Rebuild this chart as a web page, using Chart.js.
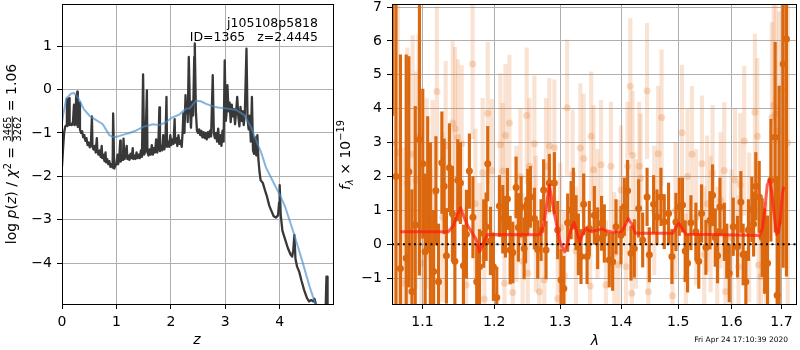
<!DOCTYPE html>
<html>
<head>
<meta charset="utf-8">
<script src="https://cdn.jsdelivr.net/npm/chart.js@4.4.1/dist/chart.umd.min.js"></script>
<style>
	html, body { margin: 0; padding: 0; background: #fff; }
	#painel { position: relative; width: 800px; height: 350px; overflow: hidden; }
	#painel canvas { position: absolute; top: 0; }
</style>
</head>
<body>
<div id="painel">
	<canvas id="graficoPz" width="340" height="350" style="left:0"></canvas>
	<canvas id="graficoEspectro" width="470" height="350" style="left:330px"></canvas>
</div>
<script>
// ---- p(z) panel ----
var zTicks = [0, 1, 2, 3, 4];
var lnpTicks = [-4, -3, -2, -1, 0, 1];

var zGrade = [0.00, 0.02, 0.04, 0.06, 0.08, 0.09, 0.10, 0.12, 0.13, 0.14, 0.16, 0.18, 0.20, 0.22, 0.23, 0.25, 0.26, 0.27, 0.28, 0.29,
	0.31, 0.32, 0.33, 0.35, 0.37, 0.39, 0.41, 0.43, 0.45, 0.47, 0.49, 0.51, 0.53, 0.55, 0.56, 0.58, 0.60, 0.62, 0.64, 0.65,
	0.67, 0.69, 0.71, 0.73, 0.74, 0.76, 0.78, 0.80, 0.81, 0.83, 0.85, 0.87, 0.89, 0.91, 0.93, 0.94, 0.96, 0.98, 1.00, 1.02,
	1.03, 1.05, 1.07, 1.08, 1.10, 1.12, 1.13, 1.15, 1.17, 1.19, 1.20, 1.22, 1.24, 1.26, 1.28, 1.30, 1.31, 1.33, 1.35, 1.37,
	1.39, 1.41, 1.43, 1.45, 1.47, 1.49, 1.51, 1.53, 1.56, 1.57, 1.59, 1.61, 1.63, 1.65, 1.67, 1.69, 1.71, 1.73, 1.75, 1.77,
	1.79, 1.80, 1.82, 1.84, 1.86, 1.88, 1.90, 1.92, 1.93, 1.95, 1.97, 1.99, 2.01, 2.03, 2.05, 2.07, 2.08, 2.10, 2.12, 2.14,
	2.16, 2.18, 2.20, 2.22, 2.23, 2.25, 2.27, 2.28, 2.30, 2.31, 2.33, 2.35, 2.37, 2.39, 2.41, 2.43, 2.44, 2.46, 2.48, 2.50,
	2.52, 2.54, 2.56, 2.58, 2.60, 2.62, 2.64, 2.66, 2.68, 2.70, 2.72, 2.74, 2.77, 2.79, 2.81, 2.83, 2.85, 2.87, 2.89, 2.91,
	2.93, 2.95, 2.97, 2.99, 3.01, 3.03, 3.04, 3.06, 3.08, 3.10, 3.12, 3.14, 3.16, 3.18, 3.20, 3.22, 3.24, 3.26, 3.28, 3.30,
	3.32, 3.34, 3.36, 3.39, 3.41, 3.43, 3.45, 3.47, 3.49, 3.51, 3.53, 3.55, 3.57, 3.59, 3.61, 3.63, 3.65, 3.69, 3.73, 3.77,
	3.81, 3.85, 3.89, 3.93, 3.97, 3.99, 4.00, 4.02, 4.05, 4.10, 4.15, 4.20, 4.23, 4.25, 4.27, 4.29, 4.32, 4.36, 4.40, 4.45,
	4.50, 4.54, 4.58, 4.62, 4.64, 4.66, 4.68, 4.84, 4.86, 4.87, 4.88, 4.98];
var lnpZ = [-1.78, -1.35, -0.98, -0.85, -0.82, -0.22, -0.84, -0.80, -0.20, -0.82, -0.78, -0.82, -0.78, -0.35, -0.82, -0.80, -0.13, -0.80, -0.05, -0.86,
	-0.82, -0.30, -0.92, -1.00, -0.96, -1.10, -1.05, -1.18, -1.12, -1.28, -1.22, -1.33, -1.28, -0.62, -1.32, -1.38, -1.30, -1.45, -1.12, -1.42,
	-1.50, -1.40, -1.55, -1.30, -1.58, -1.50, -1.65, -1.45, -1.68, -1.60, -1.72, -1.65, -1.78, -1.72, -1.80, -0.55, -1.82, -1.75, -1.72, -1.50,
	-1.72, -1.62, -1.18, -1.66, -1.52, -1.62, -1.13, -1.60, -1.48, -1.30, -1.60, -1.52, -1.62, -1.48, -1.58, -1.35, -1.60, -1.52, -1.60, -1.45,
	-1.58, -1.50, -1.58, -1.40, -1.55, 0.35, -1.50, -1.42, -0.02, -1.45, -1.52, -1.38, -1.50, -1.28, -1.50, -1.35, -1.45, -1.15, -1.45, -1.30,
	-0.41, -1.42, -1.30, -1.40, -1.05, -1.38, -1.25, -0.17, -1.32, -1.20, -1.32, -1.05, -1.28, -1.15, -1.25, -0.68, -1.22, -1.12, -1.30, -1.05,
	-1.25, -1.18, -1.32, -0.90, -0.55, -1.00, -0.13, -0.55, -0.30, -0.75, 0.75, -0.40, -0.88, -0.28, -0.60, 0.75, 1.06, -0.50, -0.95, -1.00,
	-0.92, -1.05, -0.95, -1.10, -0.98, -1.12, -1.00, -1.15, -0.98, -1.10, -0.95, -1.08, 0.33, -1.00, -1.12, -1.00, -1.20, -0.90, -1.25, -1.05,
	-1.30, -0.95, -1.20, 0.67, -0.72, -0.45, 0.10, -0.50, -0.30, -0.75, -0.35, -0.62, -0.45, -0.80, -0.50, -0.17, -0.62, -0.85, -0.40, -0.72,
	-0.50, -0.82, -0.55, 0.94, -0.70, -0.92, -0.60, -1.20, -0.17, -1.40, -1.48, -1.10, -1.52, -1.05, -1.62, -1.90, -2.09, -2.15, -2.32, -2.48,
	-2.68, -2.80, -2.92, -2.95, -2.90, -2.60, -2.20, -2.90, -3.25, -3.45, -3.65, -3.80, -3.85, -3.70, -3.35, -3.90, -4.08, -4.20, -4.40, -4.62,
	-4.80, -4.88, -4.85, -4.88, -4.82, -4.92, -5.30, -5.30, -4.31, -4.31, -5.30, -5.30];

var zSuave = [0.00, 0.02, 0.08, 0.17, 0.22, 0.30, 0.40, 0.51, 0.60, 0.75, 0.87, 0.95, 1.00, 1.10, 1.24, 1.35, 1.49, 1.67, 1.79, 1.90,
	2.03, 2.15, 2.28, 2.35, 2.46, 2.55, 2.65, 2.80, 3.04, 3.20, 3.35, 3.47, 3.59, 3.66, 3.75, 3.87, 4.00, 4.10, 4.26, 4.41,
	4.55, 4.64, 4.72];
var lnpSuave = [-0.75, -0.59, -0.20, -0.09, -0.08, -0.20, -0.45, -0.61, -0.68, -0.80, -1.05, -1.10, -1.09, -1.05, -1.00, -0.95, -0.86, -0.80, -0.82, -0.76,
	-0.64, -0.58, -0.44, -0.43, -0.26, -0.27, -0.33, -0.40, -0.44, -0.47, -0.59, -0.86, -1.24, -1.45, -1.80, -2.10, -2.42, -2.70, -3.31, -3.93,
	-4.54, -4.88, -5.30];

// ---- spectrum panel ----
var lamTicks = [1.1, 1.2, 1.3, 1.4, 1.5, 1.6, 1.7];
var fluxTicks = [-1, 0, 1, 2, 3, 4, 5, 6, 7];

var lamDark = [1.0610, 1.0652, 1.0710, 1.0785, 1.0820, 1.0860, 1.0904, 1.0960, 1.1004, 1.1036,
	1.1070, 1.1106, 1.1150, 1.1181, 1.1216, 1.1262, 1.1293, 1.1324, 1.1366, 1.1407,
	1.1441, 1.1481, 1.1518, 1.1560, 1.1602, 1.1644, 1.1694, 1.1748, 1.1787, 1.1848,
	1.1883, 1.1906, 1.1945, 1.1988, 1.2037, 1.2076, 1.2125, 1.2164, 1.2194, 1.2234,
	1.2273, 1.2323, 1.2357, 1.2398, 1.2443, 1.2465, 1.2498, 1.2538, 1.2599, 1.2650,
	1.2701, 1.2741, 1.2778, 1.2830, 1.2908, 1.2960, 1.3013, 1.3057, 1.3118, 1.3172,
	1.3209, 1.3252, 1.3289, 1.3332, 1.3375, 1.3430, 1.3467, 1.3549, 1.3604, 1.3669,
	1.3714, 1.3797, 1.3853, 1.3910, 1.3994, 1.4051, 1.4107, 1.4165, 1.4222, 1.4297,
	1.4367, 1.4444, 1.4483, 1.4559, 1.4618, 1.4689, 1.4748, 1.4825, 1.4886, 1.4958,
	1.5019, 1.5079, 1.5128, 1.5171, 1.5233, 1.5325, 1.5378, 1.5430, 1.5512, 1.5588,
	1.5638, 1.5689, 1.5733, 1.5779, 1.5862, 1.5910, 1.5957, 1.6035, 1.6118, 1.6184,
	1.6229, 1.6282, 1.6334, 1.6401, 1.6436, 1.6480, 1.6548, 1.6608, 1.6658, 1.6716,
	1.6784, 1.6871, 1.6912, 1.6953, 1.7036, 1.7104];
var fluxDark = [7.6, 2.0, -0.71, -0.41, 2.14, -1.39, 0.57, 3.09, 2.38, -0.22,
	1.77, 0.6, -0.8, 1.58, -1.1, 2.41, 1.71, -0.34, 2.26, 0.9,
	-0.5, 1.89, 1.81, -0.63, 0.3, 2.16, 0.8, -1.1, -0.66, 0.32,
	0.52, 2.38, 0.1, -0.66, -1.57, 1.13, 0.74, 0.52, 1.34, -0.17,
	-0.24, 1.68, 0.5, 1.11, -0.12, 0.35, 1.32, 1.40, 0.76, -0.15,
	0.42, 1.60, -0.17, 1.81, 1.81, 0.42, -1.05, -1.3, 0.64, 1.01,
	1.35, 0.64, 0.0, -0.36, 1.18, -0.36, 0.47, 0.86, 0.18, 0.62,
	0.32, -0.46, -0.51, 0.52, 0.27, 1.11, 1.58, -0.26, -0.12, 1.06,
	0.13, 1.40, -0.31, 1.18, 0.81, 1.40, 0.67, 0.91, -0.36, 0.66,
	1.11, 1.16, -0.2, -0.56, 0.64, 0.37, -0.5, 0.91, -0.09, 0.71,
	1.45, 0.2, -0.34, 1.11, 0.37, -0.2, -0.85, 0.52, -0.07, 1.25,
	-0.3, -1.1, 0.42, 1.03, 0.6, 1.71, 1.40, 0.2, -0.2, -0.56,
	1.89, 3.16, -1.5, 0.67, 5.32, 6.06];
var errDark = [3.8, 5.5, 6.3, 6.0, 3.4, 3.0, 3.5, 4.0, 2.2, 2.3,
	2.0, 2.4, 1.8, 1.6, 1.7, 1.5, 1.4, 1.4, 1.3, 1.4,
	1.3, 1.2, 1.2, 1.2, 1.3, 1.1, 1.2, 1.1, 1.1, 1.0,
	1.0, 1.1, 1.0, 1.0, 0.9, 0.9, 1.0, 0.9, 0.9, 1.0,
	0.9, 0.9, 1.0, 0.9, 0.9, 0.9, 0.9, 0.9, 0.9, 0.85,
	0.9, 0.9, 0.85, 0.85, 0.9, 0.85, 0.9, 0.95, 0.85, 0.85,
	0.9, 0.8, 0.9, 0.8, 0.9, 0.8, 0.8, 0.85, 0.9, 0.8,
	0.85, 0.8, 0.85, 0.8, 0.85, 0.85, 0.9, 0.8, 0.85, 0.85,
	0.8, 0.85, 0.8, 0.85, 0.8, 0.85, 0.8, 0.9, 0.8, 0.85,
	0.85, 0.8, 0.9, 0.85, 0.8, 0.85, 0.8, 0.85, 0.8, 0.85,
	0.9, 0.85, 0.8, 0.85, 0.85, 0.8, 0.85, 0.85, 0.9, 0.9,
	0.9, 0.9, 0.9, 0.95, 0.95, 1.0, 1.05, 1.15, 1.25, 1.4,
	1.8, 2.8, 3.5, 4.0, 6.0, 7.0];

var lamLight = [1.0597, 1.0675, 1.0738, 1.0800, 1.0870, 1.0914, 1.0950, 1.0985, 1.1056, 1.1114,
	1.1137, 1.1194, 1.1272, 1.1314, 1.1411, 1.1444, 1.1481, 1.1536, 1.1598, 1.1690,
	1.1728, 1.1787, 1.1833, 1.1857, 1.1906, 1.1964, 1.2090, 1.2125, 1.2150, 1.2164,
	1.2223, 1.2273, 1.2327, 1.2387, 1.2420, 1.2482, 1.2498, 1.2523, 1.2599, 1.2620,
	1.2675, 1.2751, 1.2778, 1.2830, 1.2908, 1.2960, 1.3000, 1.3065, 1.3109, 1.3196,
	1.3250, 1.3321, 1.3375, 1.3480, 1.3497, 1.3537, 1.3600, 1.3659, 1.3742, 1.3825,
	1.3881, 1.3950, 1.3994, 1.4079, 1.4107, 1.4153, 1.4180, 1.4192, 1.4250, 1.4308,
	1.4330, 1.4444, 1.4465, 1.4570, 1.4640, 1.4700, 1.4896, 1.4950, 1.5068, 1.5140,
	1.5170, 1.5251, 1.5330, 1.5437, 1.5480, 1.5536, 1.5600, 1.5638, 1.5727, 1.5790,
	1.5862, 1.5885, 1.6000, 1.6070, 1.6138, 1.6171, 1.6250, 1.6348, 1.6462, 1.6510,
	1.6534, 1.6582, 1.6682, 1.6804, 1.6840, 1.6885, 1.6953, 1.7007, 1.7130];
var fluxLight = [3.0, 2.7, -1.15, 1.8, 2.66, 1.89, 3.19, -0.56, 1.5, -0.38,
	1.55, 4.51, 0.8, 2.90, 3.58, 3.41, 3.15, 2.97, -1.2, 5.32,
	1.2, -0.4, 2.11, -1.61, 3.87, 2.18, 2.94, 2.16, -1.15, 3.21,
	3.58, -1.42, 0.9, 2.0, -0.5, 3.80, -0.85, 2.3, 2.97, 0.6,
	-1.4, -1.05, 2.3, 2.9, 2.85, -1.6, 0.5, -0.93, 4.03, 2.07,
	-0.2, 2.84, 2.53, -1.23, 3.19, 2.2, 0.9, 2.35, -1.2, 2.3,
	-0.27, -0.6, 1.6, -0.66, 2.3, 4.66, -1.44, 2.63, 0.6, 2.3,
	1.95, 4.52, -1.4, 1.0, 2.67, 3.74, -1.52, 1.0, 3.29, -1.0,
	2.0, 2.66, 0.8, 2.38, -0.3, 1.2, 0.6, 2.1, -0.3, 1.3,
	2.18, -1.4, 0.2, 1.9, -0.66, 1.76, 3.05, 0.5, 3.90, 3.19,
	-0.61, -0.95, -1.36, 3.74, 4.1, 3.85, 3.36, 4.59, 3.0];
var errLight = [5.0, 4.5, 4.0, 4.0, 3.5, 3.2, 3.0, 2.8, 2.8, 2.6,
	2.7, 2.5, 2.5, 2.5, 2.4, 2.4, 2.3, 2.3, 2.3, 2.2,
	2.2, 2.2, 2.2, 2.0, 2.1, 2.1, 2.1, 2.0, 2.0, 2.1,
	2.0, 2.0, 2.0, 2.0, 2.0, 2.0, 2.0, 2.0, 2.0, 2.0,
	1.9, 1.9, 2.0, 2.0, 2.0, 1.9, 1.9, 1.9, 2.0, 1.9,
	1.9, 1.9, 1.9, 1.9, 1.9, 1.9, 1.9, 1.9, 1.9, 1.9,
	1.8, 1.9, 1.9, 1.9, 1.9, 2.0, 1.9, 1.9, 1.9, 1.9,
	1.9, 2.0, 1.9, 1.9, 2.0, 2.0, 1.9, 2.0, 2.0, 1.9,
	2.0, 2.0, 2.0, 2.0, 2.0, 2.0, 2.0, 2.0, 2.0, 2.0,
	2.0, 2.0, 2.0, 2.1, 2.1, 2.1, 2.2, 2.2, 2.3, 2.3,
	2.3, 2.4, 2.6, 2.8, 3.0, 3.2, 3.5, 4.0, 5.0];

var lamModelo = [1.070, 1.135, 1.142, 1.148, 1.152, 1.156, 1.162, 1.168, 1.174, 1.179, 1.184, 1.190, 1.200, 1.268, 1.274, 1.279,
	1.283, 1.287, 1.293, 1.300, 1.307, 1.312, 1.317, 1.322, 1.326, 1.331, 1.336, 1.341, 1.345, 1.350, 1.360, 1.368,
	1.375, 1.385, 1.400, 1.406, 1.412, 1.418, 1.424, 1.490, 1.496, 1.501, 1.507, 1.514, 1.560, 1.655, 1.661, 1.666,
	1.671, 1.676, 1.681, 1.686, 1.690, 1.694, 1.698, 1.702, 1.705];
var fluxModelo = [0.37, 0.37, 0.55, 0.90, 1.08, 0.85, 0.55, 0.35, 0.15, -0.22, 0.02, 0.28, 0.29, 0.28, 0.55, 1.20,
	1.75, 1.30, 0.70, 0.05, -0.22, 0.05, 0.45, 0.65, 0.40, 0.08, 0.30, 0.48, 0.42, 0.38, 0.42, 0.45,
	0.40, 0.36, 0.37, 0.55, 0.75, 0.60, 0.33, 0.33, 0.50, 0.62, 0.48, 0.30, 0.29, 0.26, 0.45, 1.00,
	1.75, 1.90, 1.45, 0.75, 0.30, 0.35, 0.80, 1.50, 1.70];

var lamZero = [1.0601, 1.7303];
var fluxZero = [0, 0];

var Resketch = Resketch || {};
var FONTE = '"DejaVu Sans"';
Chart.defaults.font.family = FONTE;
Chart.defaults.font.size = 14;
Chart.defaults.color = '#000';

function pares(xs, ys) {
	return xs.map(function(x, i) { return { x: x, y: ys[i] }; });
}

function barras(xs, ys, es) {
	return xs.map(function(x, i) { return { x: x, y: [ys[i] - es[i], ys[i] + es[i]] }; });
}

function menos(v) {
	return String(v).replace('-', '\u2212');
}

// axis in matplotlib style: fixed size, grey grid, black outward ticks
function eixo(tipo, min, max, valores, tamanho, formato) {
	return {
		type: tipo,
		min: min,
		max: max,
		offset: false,
		border: { display: false },
		grid: { color: '#b0b0b0', lineWidth: 1, offset: false, drawTicks: true, tickLength: 5, tickColor: '#000', tickWidth: 1 },
		ticks: { autoSkip: false, maxRotation: 0, minRotation: 0, padding: 5, color: '#000', font: { size: 14 }, callback: formato },
		afterBuildTicks: function(s) {
			s.ticks = valores.map(function(v) { return { value: v }; });
		},
		afterFit: function(s) {
			if (s.isHorizontal()) s.height = tamanho; else s.width = tamanho;
			s.paddingTop = 0; s.paddingBottom = 0; s.paddingLeft = 0; s.paddingRight = 0;
		}
	};
}

// text made of pieces (italic, sub/superscript, fraction)
function textoComposto(ctx, partes, x, y, angulo) {
	ctx.save();
	ctx.translate(x, y);
	ctx.rotate(angulo);
	ctx.fillStyle = '#000';
	ctx.textBaseline = 'alphabetic';
	ctx.textAlign = 'left';
	var total = 0;
	partes.forEach(function(p) {
		ctx.font = p.f;
		p.w = p.num ? Math.max(ctx.measureText(p.num).width, ctx.measureText(p.den).width) + 2 : ctx.measureText(p.t).width;
		total += p.w;
	});
	var cx = -total / 2;
	partes.forEach(function(p) {
		ctx.font = p.f;
		if (p.num) {
			ctx.textAlign = 'center';
			ctx.fillText(p.num, cx + p.w / 2, -5.3);
			ctx.fillText(p.den, cx + p.w / 2, 4.6);
			ctx.fillRect(cx + 0.5, -4.2, p.w - 1, 0.9);
			ctx.textAlign = 'left';
		} else {
			ctx.fillText(p.t, cx, p.dy || 0);
		}
		cx += p.w;
	});
	ctx.restore();
}

function moldura(ctx, a) {
	ctx.save();
	ctx.strokeStyle = '#000';
	ctx.lineWidth = 1;
	ctx.strokeRect(a.left + 0.5, a.top + 0.5, a.right - a.left, a.bottom - a.top);
	ctx.restore();
}

var N = '14px ' + FONTE, I = 'italic 14px ' + FONTE, S = '9.8px ' + FONTE, SI = 'italic 9.8px ' + FONTE;

Resketch.GraficoPz = (function() {

	function GraficoPz() {
		this.ctx = document.getElementById('graficoPz').getContext('2d');
	}

	GraficoPz.prototype.iniciar = function() {
		var textos = {
			id: 'textosPz',
			afterDraw: function(chart) {
				var ctx = chart.ctx;
				moldura(ctx, chart.chartArea);
				textoComposto(ctx, [
					{ t: 'log ', f: N }, { t: 'p', f: I }, { t: '(', f: N }, { t: 'z', f: I }, { t: ')', f: N },
					{ t: ' / ', f: N }, { t: '\u03c7', f: I }, { t: '2', f: S, dy: -5.5 }, { t: ' = ', f: N },
					{ num: '3465', den: '3262', f: S }, { t: ' = 1.06', f: N }
				], 16, 154, -Math.PI / 2);
				textoComposto(ctx, [{ t: 'z', f: I }], 197, 344, 0);
				ctx.save();
				ctx.font = '12.5px ' + FONTE;
				ctx.textAlign = 'right';
				ctx.fillStyle = '#000';
				ctx.fillText('j105108p5818', 318, 27);
				ctx.fillText('ID=1365   z=2.4445', 318, 40.5);
				ctx.restore();
			}
		};

		new Chart(this.ctx, {
			type: 'line',
			data: {
				datasets: [{
					label: 'prior',
					data: pares(zSuave, lnpSuave),
					borderColor: 'rgba(70,140,200,0.65)',
					borderWidth: 2,
					pointRadius: 0,
					borderJoinStyle: 'round'
				}, {
					label: 'p(z)',
					data: pares(zGrade, lnpZ),
					borderColor: '#383838',
					borderWidth: 2.3,
					pointRadius: 0,
					borderJoinStyle: 'round'
				}]
			},
			options: {
				responsive: false,
				animation: false,
				layout: { padding: { left: 0, right: 7, top: 4, bottom: 0 } },
				plugins: { legend: { display: false }, tooltip: { enabled: false } },
				scales: {
					x: eixo('linear', 0, 4.98, zTicks, 46, function(v) { return menos(v); }),
					y: eixo('linear', -4.94, 1.97, lnpTicks, 62, function(v) { return menos(v); })
				}
			},
			plugins: [textos]
		});
	};

	return GraficoPz;
}());

Resketch.GraficoEspectro = (function() {

	function GraficoEspectro() {
		this.ctx = document.getElementById('graficoEspectro').getContext('2d');
	}

	GraficoEspectro.prototype.iniciar = function() {
		var textos = {
			id: 'textosEspectro',
			afterDraw: function(chart) {
				var ctx = chart.ctx;
				moldura(ctx, chart.chartArea);
				textoComposto(ctx, [
					{ t: 'f', f: I }, { t: '\u03bb', f: SI, dy: 3 }, { t: ' \u00d7 10', f: N }, { t: '\u221219', f: S, dy: -5.5 }
				], 19.5, 155, -Math.PI / 2);
				textoComposto(ctx, [{ t: '\u03bb', f: I }], 265, 345, 0);
				ctx.save();
				ctx.font = '7.5px ' + FONTE;
				ctx.textAlign = 'right';
				ctx.fillStyle = '#000';
				ctx.fillText('Fri Apr 24 17:10:39 2020', 458, 342);
				ctx.restore();
			}
		};

		new Chart(this.ctx, {
			type: 'scatter',
			data: {
				datasets: [{
					type: 'line',
					label: 'modelo',
					data: pares(lamModelo, fluxModelo),
					borderColor: 'rgba(255,25,15,0.7)',
					borderWidth: 3,
					pointRadius: 0,
					borderJoinStyle: 'round'
				}, {
					type: 'line',
					label: 'zero',
					data: pares(lamZero, fluxZero),
					borderColor: '#000',
					borderWidth: 2,
					borderDash: [2, 3.5],
					pointRadius: 0
				}, {
					type: 'scatter',
					label: 'fluxo',
					data: pares(lamDark, fluxDark),
					backgroundColor: 'rgb(219,104,14)',
					borderWidth: 0,
					pointRadius: 3.5
				}, {
					type: 'bar',
					label: 'erro',
					data: barras(lamDark, fluxDark, errDark),
					backgroundColor: 'rgb(219,104,14)',
					borderWidth: 0,
					barThickness: 2.5,
					grouped: false,
					borderSkipped: false
				}, {
					type: 'scatter',
					label: 'fluxo 2',
					data: pares(lamLight, fluxLight),
					backgroundColor: 'rgba(228,115,35,0.25)',
					borderWidth: 0,
					pointRadius: 3.5
				}, {
					type: 'bar',
					label: 'erro 2',
					data: barras(lamLight, fluxLight, errLight),
					backgroundColor: 'rgba(228,115,35,0.2)',
					borderWidth: 0,
					barThickness: 3.5,
					grouped: false,
					borderSkipped: false
				}]
			},
			options: {
				responsive: false,
				animation: false,
				layout: { padding: { left: 0, right: 1, top: 4, bottom: 0 } },
				plugins: { legend: { display: false }, tooltip: { enabled: false } },
				scales: {
					x: eixo('logarithmic', 1.0601, 1.7303, lamTicks, 46, function(v) { return Number(v).toFixed(1); }),
					y: eixo('linear', -1.76, 7.09, fluxTicks, 62, function(v) { return menos(v); })
				}
			},
			plugins: [textos]
		});
	};

	return GraficoEspectro;
}());

new Resketch.GraficoPz().iniciar();
new Resketch.GraficoEspectro().iniciar();
</script>
</body>
</html>
